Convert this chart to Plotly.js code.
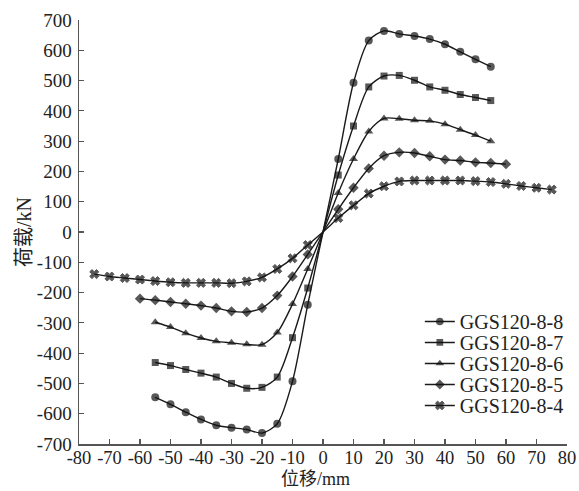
<!DOCTYPE html>
<html>
<head>
<meta charset="utf-8">
<script src="https://cdn.plot.ly/plotly-3.0.1.min.js"></script>
<style>
html,body{margin:0;padding:0;background:#fff;}
#chart{width:579px;height:491px;}
</style>
</head>
<body>
<div id="chart"></div>
<script>
// Displacement (mm) for each specimen
var disp8 = [-55,-50,-45,-40,-35,-30,-25,-20,-15,-10,-5,0,5,10,15,20,25,30,35,40,45,50,55];
var disp7 = [-55,-50,-45,-40,-35,-30,-25,-20,-15,-10,-5,0,5,10,15,20,25,30,35,40,45,50,55];
var disp6 = [-55,-50,-45,-40,-35,-30,-25,-20,-15,-10,-5,0,5,10,15,20,25,30,35,40,45,50,55];
var disp5 = [-60,-55,-50,-45,-40,-35,-30,-25,-20,-15,-10,-5,0,5,10,15,20,25,30,35,40,45,50,55,60];
var disp4 = [-75,-70,-65,-60,-55,-50,-45,-40,-35,-30,-25,-20,-15,-10,-5,0,5,10,15,20,25,30,35,40,45,50,55,60,65,70,75];

// Load (kN)
var load8 = [-546,-569,-595,-619,-638,-646,-652,-664,-633,-493,-240,0,241,493,632,664,654,647,637,620,595,570,546];
var load7 = [-431,-441,-454,-466,-479,-500,-516,-513,-479,-349,-185,0,188,350,479,515,517,501,479,468,454,444,434];
var load6 = [-298,-314,-334,-350,-361,-366,-371,-372,-332,-238,-122,0,129,241,332,375,374,369,367,356,338,320,300];
var load5 = [-220,-225,-231,-237,-243,-251,-262,-264,-251,-210,-147,-74,0,75,146,210,252,263,261,250,239,236,230,228,224];
var load4 = [-139,-147,-152,-157,-162,-166,-168,-168,-168,-169,-163,-150,-122,-87,-43,0,46,88,127,151,167,170,170,170,170,168,165,159,152,146,140];

var names = ["GGS120-8-8","GGS120-8-7","GGS120-8-6","GGS120-8-5","GGS120-8-4"];
var xTitle = "位移/mm";
var yTitle = "荷载/kN";

var xTickVals = [-80,-70,-60,-50,-40,-30,-20,-10,0,10,20,30,40,50,60,70,80];
var yTickVals = [-700,-600,-500,-400,-300,-200,-100,0,100,200,300,400,500,600,700];

var series = [
  {x: disp8, y: load8, sym: "circle", sz: 8, lw: 0},
  {x: disp7, y: load7, sym: "square", sz: 7, lw: 0},
  {x: disp6, y: load6, sym: "triangle-up", sz: 8, lw: 0},
  {x: disp5, y: load5, sym: "diamond", sz: 8, lw: 0},
  {x: disp4, y: load4, sym: "x", sz: 8, lw: 1}
];

var traces = series.map(function(s, i){
  return {
    type: "scatter",
    mode: "lines+markers",
    name: names[i],
    x: s.x,
    y: s.y,
    line: {color: "#1a1a1a", width: 1.4, shape: "spline", smoothing: 0.8},
    marker: {
      color: "#111",
      symbol: s.sym,
      size: s.x.map(function(v){ return v === 0 ? 0 : s.sz; }),
      line: {width: s.lw, color: "#111"}
    }
  };
});

var serif = "Liberation Serif, Times New Roman, serif";
var cjk = "Liberation Serif, Noto Sans CJK SC, serif";

var layout = {
  width: 579,
  height: 491,
  margin: {l: 79, r: 11, t: 20, b: 47, pad: 0},
  paper_bgcolor: "#fff",
  plot_bgcolor: "#fff",
  showlegend: true,
  legend: {
    x: 0.697, xanchor: "left",
    y: 0.335, yanchor: "top",
    bgcolor: "rgba(0,0,0,0)",
    font: {family: serif, size: 20, color: "#222"},
    itemwidth: 30
  },
  annotations: [{
    text: xTitle,
    xref: "paper", yref: "paper",
    x: 0.485, y: -0.1085,
    xanchor: "center", yanchor: "bottom",
    borderpad: 0,
    showarrow: false,
    font: {family: cjk, size: 18, color: "#222"}
  }],
  xaxis: {
    range: [-80, 80],
    tickvals: xTickVals,
    ticktext: xTickVals.map(String),
    tickangle: 0,
    showgrid: false,
    zeroline: false,
    showline: true,
    linecolor: "#555",
    linewidth: 1.5,
    ticks: "inside",
    ticklen: 5,
    tickcolor: "#555",
    tickwidth: 1.2,
    ticklabelstandoff: -4,
    tickfont: {family: serif, size: 18.5, color: "#222"}
  },
  yaxis: {
    range: [-700, 700],
    tickvals: yTickVals,
    ticktext: yTickVals.map(String),
    showgrid: false,
    zeroline: false,
    showline: true,
    linecolor: "#555",
    linewidth: 1.5,
    ticks: "inside",
    ticklen: 5,
    tickcolor: "#555",
    tickwidth: 1.2,
    ticklabelstandoff: 2,
    tickfont: {family: serif, size: 19, color: "#222"},
    title: {text: yTitle, font: {family: cjk, size: 20, color: "#222"}, standoff: 0}
  }
};

function tightenLegend(gd){
  var items = gd.querySelectorAll(".legend .traces");
  if (!items.length) return;
  var step = 21, y0 = null;
  items.forEach(function(el, i){
    var t = el.getAttribute("transform") || "";
    var m = t.match(/translate\(\s*([-\d.]+)[ ,]+([-\d.]+)\s*\)/);
    var tx = m ? parseFloat(m[1]) : 0;
    var ty = m ? parseFloat(m[2]) : 0;
    if (y0 === null) y0 = ty;
    el.setAttribute("transform", "translate(" + tx + "," + (y0 + i * step) + ")");
  });
}

Plotly.newPlot("chart", traces, layout, {displayModeBar: false, staticPlot: true}).then(function(gd){
  tightenLegend(gd);
});
</script>
</body>
</html>
